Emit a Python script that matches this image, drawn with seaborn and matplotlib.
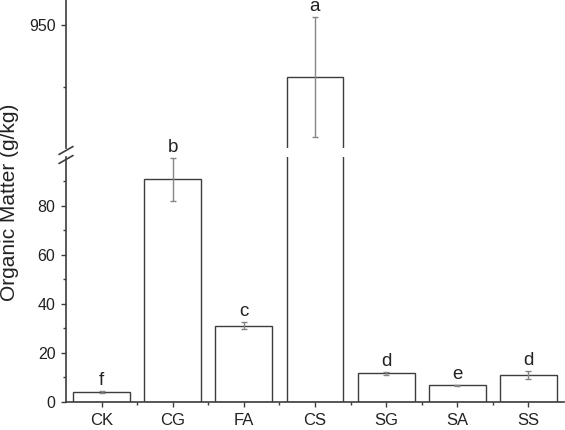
import numpy as np
import matplotlib
matplotlib.use("Agg")
import matplotlib.pyplot as plt
import seaborn as sns
from matplotlib.ticker import FixedLocator
from matplotlib.lines import Line2D

# data
treatments = ["CK", "CG", "FA", "CS", "SG", "SA", "SS"]
organic_matter = [3.8, 90.8, 31.0, 929.0, 11.6, 6.6, 10.9]
om_error = [0.3, 8.7, 1.5, 24.0, 0.6, 0.3, 1.7]
sig_letters = ["f", "b", "c", "a", "d", "e", "d"]

sns.set_style("ticks")
plt.rcParams["font.family"] = ["Liberation Sans", "DejaVu Sans"]

W, H = 565, 430
fig = plt.figure(figsize=(W / 100, H / 100), dpi=100)

left = 66 / W
width = 1 - left - 1 / W
ax_low = fig.add_axes([left, (H - 401.5) / H, width, (401.5 - 157) / H])
ax_up = fig.add_axes([left, (H - 148) / H, width, 148 / H])

edge = "#3d3d3d"
err_col = "#858585"
txt = "#222222"

for ax in (ax_low, ax_up):
    sns.barplot(x=treatments, y=organic_matter, color="white", edgecolor=edge,
                linewidth=1.0, errorbar=None, width=0.8, saturation=1, ax=ax)
    ax.errorbar(np.arange(len(treatments)), organic_matter, yerr=om_error,
                fmt="none", ecolor=err_col, elinewidth=1.0, capsize=2.5,
                capthick=1.0)
    ax.set_xlim(-0.5, len(treatments) - 0.5)
    ax.set_xlabel("")
    ax.set_ylabel("")
    for s in ("top", "right"):
        ax.spines[s].set_visible(False)
    ax.spines["left"].set_color(edge)
    ax.spines["left"].set_linewidth(1.2)
    ax.tick_params(axis="y", which="major", length=3.6, width=1.0, color=edge,
                   labelsize=11.5, labelcolor=txt, pad=4)
    ax.tick_params(axis="y", which="minor", length=2.2, width=1.0, color=edge)
    ax.patch.set_alpha(0)

# lower segment
ax_low.set_ylim(0, 99.9)
ax_low.yaxis.set_major_locator(FixedLocator([0, 20, 40, 60, 80]))
ax_low.yaxis.set_minor_locator(FixedLocator([10, 30, 50, 70, 90]))
ax_low.spines["bottom"].set_color(edge)
ax_low.spines["bottom"].set_linewidth(1.2)
ax_low.xaxis.set_minor_locator(FixedLocator(np.arange(0.5, len(treatments) - 1, 1.0)))
ax_low.tick_params(axis="x", which="major", length=3.6, width=1.0, color=edge,
                   labelsize=12, labelcolor=txt, pad=5)
ax_low.tick_params(axis="x", which="minor", length=2.2, width=1.0, color=edge)

# upper segment
ax_up.set_ylim(900.6, 960)
ax_up.yaxis.set_major_locator(FixedLocator([950]))
ax_up.yaxis.set_minor_locator(FixedLocator([925]))
ax_up.spines["bottom"].set_visible(False)
ax_up.tick_params(axis="x", which="both", bottom=False, labelbottom=False)

# significance letters
for i, (v, e, lab) in enumerate(zip(organic_matter, om_error, sig_letters)):
    target = ax_up if v > 500 else ax_low
    target.annotate(lab, (i, v + e), xytext=(0, 1.5), textcoords="offset points",
                    ha="center", va="bottom", fontsize=13.5, color=txt)

# axis break marks
xb = 66 / W
for yc in (150.5, 159.5):
    fig.add_artist(Line2D([xb - 7 / W, xb + 7 / W],
                          [(H - yc - 4) / H, (H - yc + 4) / H],
                          color=edge, lw=1.2, transform=fig.transFigure))

fig.text(10 / W, 1 - 202 / H, "Organic Matter (g/kg)", rotation=90,
         ha="center", va="center", fontsize=15, color=txt)

fig.savefig("out.png", dpi=100)
